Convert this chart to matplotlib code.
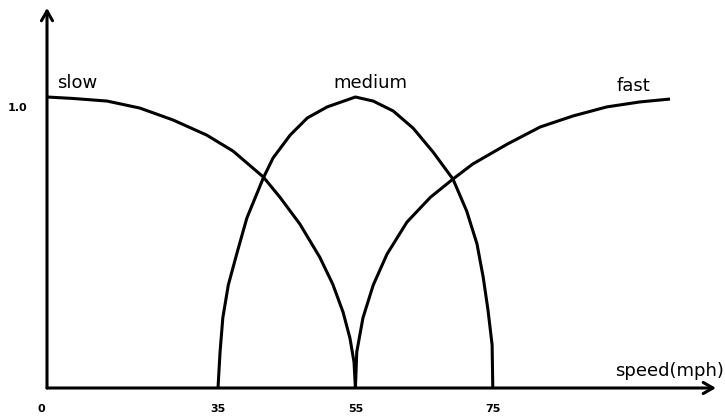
import numpy as np
import matplotlib.pyplot as plt

# --- Membership curves (speed in mph, degree 0..1) ---
slow_speed = [0, 5.3, 12.3, 19.0, 25.8, 32.7, 37.2, 41.6, 44.0, 46.9, 49.8, 51.7, 53.2, 54.2, 54.8, 55]
slow_mu = [1.0, 0.995, 0.986, 0.962, 0.921, 0.869, 0.814, 0.725, 0.656, 0.564, 0.450, 0.357, 0.261, 0.172, 0.089, 0]

medium_speed = [35, 35.3, 35.7, 36.5, 37.8, 39.2, 41.6, 43.0, 45.5, 48.0, 50.9, 53.8, 55,
                57.6, 60.5, 63.4, 66.3, 69.2, 71.2, 72.7, 73.6, 74.3, 74.9, 75]
medium_mu = [0, 0.124, 0.241, 0.354, 0.467, 0.584, 0.722, 0.790, 0.869, 0.928, 0.966, 0.990, 1.0,
             0.986, 0.952, 0.893, 0.811, 0.718, 0.608, 0.495, 0.381, 0.268, 0.148, 0]

fast_speed = [55, 55.2, 56.1, 57.6, 59.6, 62.5, 65.9, 69.2, 72.1, 77.1, 81.9, 86.7, 91.6, 96.4, 100.8]
fast_mu = [0, 0.124, 0.241, 0.354, 0.460, 0.570, 0.655, 0.718, 0.770, 0.838, 0.897, 0.935, 0.966, 0.983, 0.993]

tick_speeds = [0, 35, 55, 75]
tick_labels = ['0', '35', '55', '75']


# the sketch squeezes 0..35 mph, so use a piecewise-linear x scale
def fwd(x):
    x = np.asarray(x, dtype=float)
    return np.where(x < 35, x * 171 / 35, 171 + (x - 35) * 6.87)


def inv(p):
    p = np.asarray(p, dtype=float)
    return np.where(p < 171, p * 35 / 171, 35 + (p - 171) / 6.87)


fig = plt.figure(figsize=(7.25, 4.2), dpi=100)
ax = fig.add_axes([0, 0, 1, 1])
ax.set_xscale('function', functions=(fwd, inv))
ax.set_xlim(float(inv(-47)), float(inv(678)))
ax.set_ylim(-32 / 291, 388 / 291)
ax.axis('off')

lw = 2.2
for xs, ys in [(slow_speed, slow_mu), (medium_speed, medium_mu), (fast_speed, fast_mu)]:
    ax.plot(xs, ys, color='black', linewidth=lw, solid_capstyle='butt', solid_joinstyle='round')

# axes drawn as arrows
arrow = dict(arrowstyle='->,head_length=0.7,head_width=0.4', lw=lw, color='black',
             shrinkA=0, shrinkB=0)
ax.annotate('', xy=(0, 1.306), xytext=(0, 0), arrowprops=arrow)
ax.annotate('', xy=(float(inv(669)), 0), xytext=(0, 0), arrowprops=arrow)

# tick labels
for s, lab in zip(tick_speeds, tick_labels):
    ax.annotate(lab, xy=(s, 0), xytext=(-4 if s == 0 else 0, -15), textcoords='offset points',
                ha='center', va='center', fontsize=8, fontweight='bold')
ax.annotate('1.0', xy=(0, 1.0), xytext=(-21, -8), textcoords='offset points',
            ha='center', va='center', fontsize=8, fontweight='bold')

# curve names and axis name
ax.annotate('slow', xy=(0, 1.0), xytext=(7, 10), textcoords='offset points',
            ha='left', va='center', fontsize=13)
ax.annotate('medium', xy=(55, 1.0), xytext=(11, 10), textcoords='offset points',
            ha='center', va='center', fontsize=13)
ax.annotate('fast', xy=(94.6, 1.0), xytext=(4, 8), textcoords='offset points',
            ha='center', va='center', fontsize=13)
ax.annotate('speed(mph)', xy=(float(inv(677)), 0), xytext=(0, 12), textcoords='offset points',
            ha='right', va='center', fontsize=13)

fig.savefig('out.png', dpi=100)
